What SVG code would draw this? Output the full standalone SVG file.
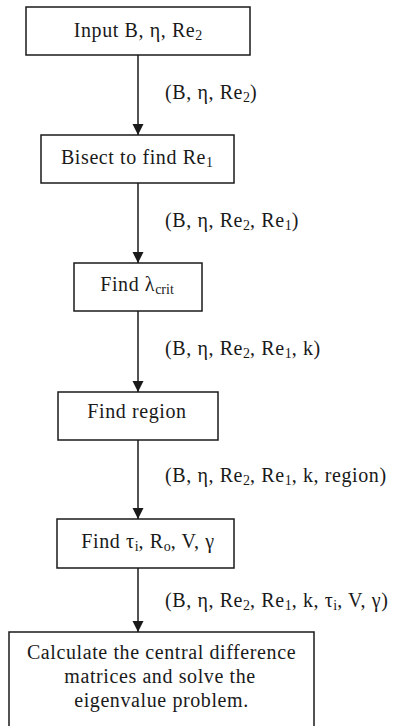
<svg xmlns="http://www.w3.org/2000/svg" width="397" height="726" viewBox="0 0 397 726">
<style>
  .box { fill: #fff; stroke: #1a1a1a; stroke-width: 1.5; }
  .t { font-family: "Liberation Serif", "Times New Roman", serif; font-size: 20px; letter-spacing: 0.6px; fill: #1a1a1a; }
  .c { text-anchor: middle; }
  .sub { font-size: 14px; letter-spacing: 0px; }
  .conn { stroke: #1a1a1a; stroke-width: 1.5; fill: none; marker-end: url(#arr); }
</style>
<defs>
  <marker id="arr" markerUnits="userSpaceOnUse" markerWidth="14" markerHeight="14" refX="11" refY="0" orient="auto" overflow="visible">
    <path d="M0,-5.5 L11,0 L0,5.5 z" fill="#1a1a1a"/>
  </marker>
</defs>
<rect width="397" height="726" fill="#fff"/>
<g id="connectors">
  <line class="conn" x1="138" y1="55" x2="138" y2="135"/>
  <line class="conn" x1="138" y1="183" x2="138" y2="263"/>
  <line class="conn" x1="138" y1="311" x2="138" y2="392"/>
  <line class="conn" x1="138" y1="440" x2="138" y2="519"/>
  <line class="conn" x1="138" y1="568" x2="138" y2="632"/>
  <text class="t" x="165" y="99">(B, η, Re<tspan class="sub" dy="3">2</tspan><tspan dy="-3">)</tspan></text>
  <text class="t" x="165" y="227">(B, η, Re<tspan class="sub" dy="3">2</tspan><tspan dy="-3">, Re</tspan><tspan class="sub" dy="3">1</tspan><tspan dy="-3">)</tspan></text>
  <text class="t" x="165" y="355">(B, η, Re<tspan class="sub" dy="3">2</tspan><tspan dy="-3">, Re</tspan><tspan class="sub" dy="3">1</tspan><tspan dy="-3">, k)</tspan></text>
  <text class="t" x="165" y="482">(B, η, Re<tspan class="sub" dy="3">2</tspan><tspan dy="-3">, Re</tspan><tspan class="sub" dy="3">1</tspan><tspan dy="-3">, k, region)</tspan></text>
  <text class="t" x="165" y="607">(B, η, Re<tspan class="sub" dy="3">2</tspan><tspan dy="-3">, Re</tspan><tspan class="sub" dy="3">1</tspan><tspan dy="-3">, k, τ</tspan><tspan class="sub" dy="3">i</tspan><tspan dy="-3">, V, γ)</tspan></text>
</g>
<g id="n1">
  <rect class="box" x="26" y="7" width="224" height="48"/>
  <text class="t c" x="138" y="37">Input B, η, Re<tspan class="sub" dy="3">2</tspan></text>
</g>
<g id="n2">
  <rect class="box" x="41" y="135" width="193" height="48"/>
  <text class="t c" x="137" y="164">Bisect to find Re<tspan class="sub" dy="3">1</tspan></text>
</g>
<g id="n3">
  <rect class="box" x="74" y="263" width="128" height="48"/>
  <text class="t c" x="137" y="291">Find λ<tspan class="sub" dy="3">crit</tspan></text>
</g>
<g id="n4">
  <rect class="box" x="58" y="392" width="160" height="48"/>
  <text class="t c" x="137" y="418">Find region</text>
</g>
<g id="n5">
  <rect class="box" x="57" y="519" width="177" height="49"/>
  <text class="t c" x="148" y="548">Find τ<tspan class="sub" dy="3">i</tspan><tspan dy="-3">, R</tspan><tspan class="sub" dy="3">o</tspan><tspan dy="-3">, V, γ</tspan></text>
</g>
<g id="n6">
  <rect class="box" x="9" y="632" width="305" height="100"/>
  <text class="t c" x="161.5" y="659">Calculate the central difference</text>
  <text class="t c" x="160" y="683">matrices and solve the</text>
  <text class="t c" x="161.5" y="707">eigenvalue problem.</text>
</g>
</svg>
